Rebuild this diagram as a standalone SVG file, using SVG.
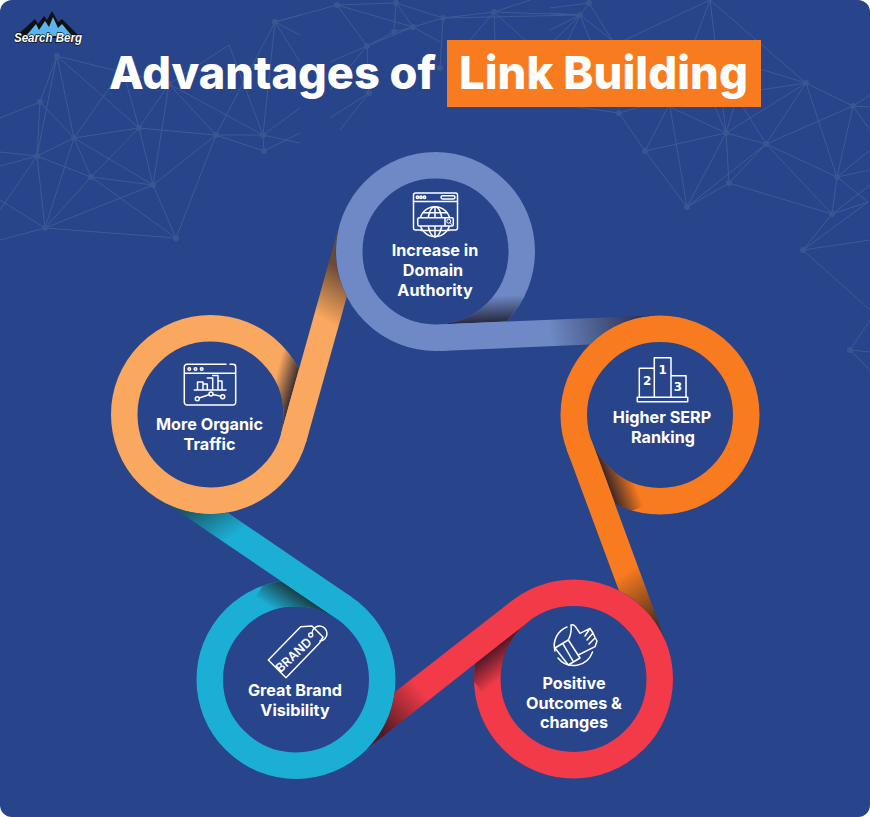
<svg xmlns="http://www.w3.org/2000/svg" width="870" height="817" viewBox="0 0 870 817">
<style>
.net{fill:none;stroke:#3e5b96;stroke-width:1}
.dot{fill:#385791}
.ring{fill:none;stroke-width:26.5}
.ic{fill:none;stroke:#fff;stroke-width:1.5;stroke-linejoin:round;stroke-linecap:round}
.lb{font-family:Inter,"Liberation Sans",sans-serif;font-weight:700;font-size:16.2px;fill:#fff;text-anchor:middle}
.tt{font-family:Inter,"Liberation Sans",sans-serif;font-weight:800;font-size:45.5px;fill:#fff}
.dg{font-family:"DejaVu Sans",sans-serif;font-weight:700;font-size:12px;fill:#fff;text-anchor:middle}
</style>
<defs>
<linearGradient id="gTop" gradientUnits="userSpaceOnUse" x1="550" y1="335" x2="640" y2="318"><stop offset="0" stop-color="#6e89c5"/><stop offset="1" stop-color="#2b3356"/></linearGradient>
<linearGradient id="gPeach" gradientUnits="userSpaceOnUse" x1="325" y1="320" x2="352" y2="275"><stop offset="0" stop-color="#faa75f"/><stop offset="1" stop-color="#6b4a32"/></linearGradient>
<linearGradient id="gOrange" gradientUnits="userSpaceOnUse" x1="622" y1="575" x2="655" y2="625"><stop offset="0" stop-color="#f97b20"/><stop offset="1" stop-color="#50301a"/></linearGradient>
<linearGradient id="gRed" gradientUnits="userSpaceOnUse" x1="425" y1="695" x2="382" y2="733"><stop offset="0" stop-color="#f23a48"/><stop offset="1" stop-color="#4e1a22"/></linearGradient>
<linearGradient id="gBlue" gradientUnits="userSpaceOnUse" x1="215" y1="548" x2="190" y2="510"><stop offset="0" stop-color="#1cafd6"/><stop offset="1" stop-color="#1a5a68"/></linearGradient>
<linearGradient id="sTop" gradientUnits="userSpaceOnUse" x1="480" y1="322.6" x2="478.9" y2="296.6"><stop offset="0" stop-color="#1a1a2a" stop-opacity=".85"/><stop offset="1" stop-color="#1a1a2a" stop-opacity="0"/></linearGradient>
<linearGradient id="sPeach" gradientUnits="userSpaceOnUse" x1="295.6" y1="381.3" x2="276" y2="375.8"><stop offset="0" stop-color="#1a1a2a" stop-opacity=".85"/><stop offset="1" stop-color="#1a1a2a" stop-opacity="0"/></linearGradient>
<linearGradient id="sOrange" gradientUnits="userSpaceOnUse" x1="605.4" y1="477.8" x2="629.8" y2="468.8"><stop offset="0" stop-color="#1a1a2a" stop-opacity=".85"/><stop offset="1" stop-color="#1a1a2a" stop-opacity="0"/></linearGradient>
<linearGradient id="sRed" gradientUnits="userSpaceOnUse" x1="497" y1="646" x2="514.2" y2="668.1"><stop offset="0" stop-color="#2a1020" stop-opacity=".8"/><stop offset="1" stop-color="#2a1020" stop-opacity="0"/></linearGradient>
<linearGradient id="sBlue" gradientUnits="userSpaceOnUse" x1="303.9" y1="596.6" x2="288.2" y2="619.8"><stop offset="0" stop-color="#1a2a2a" stop-opacity=".85"/><stop offset="1" stop-color="#1a2a2a" stop-opacity="0"/></linearGradient>
<clipPath id="cTop"><path clip-rule="evenodd" d="M336 251.5a99.5 99.5 0 1 0 199 0a99.5 99.5 0 1 0-199 0ZM362.5 251.5a73 73 0 1 0 146 0a73 73 0 1 0-146 0Z"/></clipPath>
<clipPath id="cPeach"><path clip-rule="evenodd" d="M111 414.5a99.5 99.5 0 1 0 199 0a99.5 99.5 0 1 0-199 0ZM137.5 414.5a73 73 0 1 0 146 0a73 73 0 1 0-146 0Z"/></clipPath>
<clipPath id="cOrange"><path clip-rule="evenodd" d="M560.500 415a99.5 99.5 0 1 0 199 0a99.5 99.5 0 1 0-199 0ZM587 415a73 73 0 1 0 146 0a73 73 0 1 0-146 0Z"/></clipPath>
<clipPath id="cRed"><path clip-rule="evenodd" d="M474 679a99.5 99.5 0 1 0 199 0a99.5 99.5 0 1 0-199 0ZM500.5 679a73 73 0 1 0 146 0a73 73 0 1 0-146 0Z"/></clipPath>
<clipPath id="cBlue"><path clip-rule="evenodd" d="M196.500 679.5a99.5 99.5 0 1 0 199 0a99.5 99.5 0 1 0-199 0ZM223 679.5a73 73 0 1 0 146 0a73 73 0 1 0-146 0Z"/></clipPath>
</defs>

<rect width="870" height="817" fill="#fff"/>
<rect width="870" height="817" rx="12" fill="#28448b"/>

<g id="network">
<path class="net" d="M57 56L40 102M57 56L37 156M57 56L74 138M57 56L169 84M57 56L139 128M40 102L74 138M40 102L37 156M40 102L0 118M74 138L37 156M74 138L91 177M74 138L45 228M74 138L139 128M74 138L153 185M74 138L118 75M37 156L0 152M37 156L0 166M37 156L91 177M37 156L45 228M37 156L0 210M91 177L139 128M91 177L153 185M91 177L45 228M91 177L176 238M139 128L153 185M139 128L169 84M139 128L216 135M139 128L125 78M153 185L45 228M153 185L176 238M153 185L216 135M153 185L169 84M45 228L176 238M45 228L0 240M45 228L0 200M176 238L216 135M169 84L216 135M169 84L263 135M169 84L229 45M229 45L263 135M275 22L263 135M275 22L216 135M216 135L263 135M216 135L264 151M263 135L264 151M263 135L300 143M264 151L300 133M275 22L300 15M275 22L300 35M263 135L300 108M275 22L337 5M275 22L300 62M337 5L396 3M337 5L413 27M337 5L367 46M396 3L394 32M396 3L413 27M396 3L443 18M394 32L413 27M394 32L367 46M413 27L367 46M413 27L440 42M443 18L413 27M443 18L494 12M443 18L440 68M443 18L580 15M494 12L580 15M494 12L530 0M494 12L495 40M494 12L525 40M494 12L470 40M367 46L330 90M367 46L330 62M367 46L369 93M369 93L330 118M369 93L340 130M580 15L555 40M580 15L568 40M580 15L590 40M580 15L612 40M589 3L612 40M589 3L580 15M589 3L550 8M580 15L550 13M580 15L550 30M710 0L806 83M710 0L726 133M710 0L695 40M710 0L625 40M806 83L853 106M806 83L726 133M806 83L766 144M806 83L837 177M806 83L760 69M806 83L760 90M853 106L766 144M853 106L837 177M853 106L870 95M853 106L870 107M853 106L870 130M726 133L766 144M726 133L729 183M726 133L687 207M726 133L645 151M726 133L670 107M726 133L715 107M726 133L734 107M766 144L729 183M766 144L687 207M766 144L837 177M766 144L832 214M766 144L743 107M729 183L687 207M729 183L832 214M645 151L687 207M645 151L619 113M645 151L668 107M687 207L670 107M837 177L832 214M837 177L870 150M837 177L870 170M837 177L868 202M832 214L868 202M832 214L870 185M832 214L803 250M803 250L868 202M803 250L870 240M803 250L870 310M850 350L870 320M850 350L870 352M850 350L870 370M619 113L640 107M619 113L550 103"/>
<g class="dot">
<circle cx="57" cy="56" r="3"/><circle cx="40" cy="102" r="3"/><circle cx="74" cy="138" r="3"/><circle cx="37" cy="156" r="3"/><circle cx="91" cy="177" r="3"/><circle cx="139" cy="128" r="3"/><circle cx="153" cy="185" r="3"/><circle cx="45" cy="228" r="3"/><circle cx="176" cy="238" r="3"/><circle cx="169" cy="84" r="3"/><circle cx="216" cy="135" r="3"/><circle cx="263" cy="135" r="3"/><circle cx="264" cy="151" r="3"/><circle cx="275" cy="22" r="3"/>
<circle cx="337" cy="5" r="3"/><circle cx="396" cy="3" r="3"/><circle cx="413" cy="27" r="3"/><circle cx="394" cy="32" r="3"/><circle cx="367" cy="46" r="3"/><circle cx="443" cy="18" r="3"/><circle cx="494" cy="12" r="3"/><circle cx="440" cy="68" r="3"/><circle cx="369" cy="93" r="3"/><circle cx="580" cy="15" r="3"/><circle cx="589" cy="3" r="3"/><circle cx="619" cy="113" r="3"/>
<circle cx="645" cy="151" r="3"/><circle cx="687" cy="207" r="3"/><circle cx="726" cy="133" r="3"/><circle cx="766" cy="144" r="3"/><circle cx="729" cy="183" r="3"/><circle cx="806" cy="83" r="3"/><circle cx="853" cy="106" r="3"/><circle cx="837" cy="177" r="3"/><circle cx="832" cy="214" r="3"/><circle cx="803" cy="250" r="3"/><circle cx="850" cy="350" r="3"/>
</g>
</g>

<g id="logo">
<path fill="#111" d="M14 38L35 19L38 24L44 16L47 20L52 11L58 22L62 19L79 36L60 38Z"/>
<path fill="#5ab4ee" d="M26 36L36 24L39 30L45 21L49 27L53 17L58 28L62 24L72 36Z"/>
<text x="14" y="42" textLength="68" lengthAdjust="spacingAndGlyphs" font-family="Liberation Sans,sans-serif" font-weight="700" font-style="italic" font-size="13.500px" fill="#fff" stroke="#111" stroke-width="1.400" paint-order="stroke">Search Berg</text>
</g>

<g id="title">
<text class="tt" x="109" y="89" textLength="327" lengthAdjust="spacingAndGlyphs">Advantages of</text>
<rect x="447" y="40" width="314" height="67" fill="#f97b20"/>
<text class="tt" x="459" y="89" textLength="289" lengthAdjust="spacingAndGlyphs">Link Building</text>
</g>

<g id="ring-top"><circle class="ring" cx="435.5" cy="251.500" r="86.25" stroke="#6e89c5"/><path clip-path="url(#cTop)" fill="url(#sTop)" d="M438.6 324.400L523.500 320.800L522.400 294.800L437.500 298.400Z"/></g>
<g id="ring-orange"><circle class="ring" cx="660" cy="415" r="86.25" stroke="#f97b20"/><path clip-path="url(#cOrange)" fill="url(#sOrange)" d="M591.500 440.300L619.300 515.300L643.700 506.300L615.900 431.300Z"/></g>
<g id="ring-red"><circle class="ring" cx="573.5" cy="679" r="86.25" stroke="#f23a48"/><path clip-path="url(#cRed)" fill="url(#sRed)" d="M528.600 621.400L465.500 670.600L482.700 692.700L545.800 643.500Z"/></g>
<g id="ring-blue"><circle class="ring" cx="296" cy="679.500" r="86.25" stroke="#1cafd6"/><path clip-path="url(#cBlue)" fill="url(#sBlue)" d="M337 619.100L270.800 574.100L255.100 597.300L321.300 642.300Z"/></g>
<g id="ring-peach"><circle class="ring" cx="210.500" cy="414.500" r="86.25" stroke="#faa75f"/><path clip-path="url(#cPeach)" fill="url(#sPeach)" d="M280.800 434.200L310.500 328.300L285.500 321.300L255.800 427.200Z"/></g>

<g id="connectors">
<path fill="url(#gTop)" d="M439.700 350.900L590 344.600A99.500 99.500 0 0 1 655 315.600L438.600 324.400Z"/>
<path fill="url(#gOrange)" d="M566.700 449.500L618.800 590.300A99.500 99.500 0 0 1 665.700 642L591.500 440.300Z"/>
<path fill="url(#gRed)" d="M512.300 600.500L394.800 692.100A99.500 99.500 0 0 1 367 749L528.600 621.400Z"/>
<path fill="url(#gBlue)" d="M351.900 597.200L227.500 512.600A99.500 99.500 0 0 1 169 505L337 619.100Z"/>
<path fill="url(#gPeach)" d="M306.300 441.400L346.800 296.700A99.500 99.500 0 0 1 339 226L280.800 434.200Z"/>
</g>

<g id="node-domain">
<rect class="ic" x="413.500" y="193" width="44" height="37" rx="2"/>
<path class="ic" d="M413.500 201.500H457.500"/>
<circle class="ic" cx="417.500" cy="197.300" r="1.200"/><circle class="ic" cx="421" cy="197.300" r="1.200"/><circle class="ic" cx="424.500" cy="197.300" r="1.200"/>
<rect class="ic" x="441" y="195.700" width="14" height="3.200" rx="1.600"/>
<circle class="ic" cx="435" cy="221.700" r="15" style="fill:#28448b"/>
<ellipse class="ic" cx="435" cy="221.700" rx="7" ry="15"/>
<path class="ic" d="M435 206.700V236.700M423 212.700H447M421 230.500H449"/>
<rect class="ic" x="417.700" y="217.700" width="35.600" height="8.300" rx="1.500" style="fill:#28448b"/>
<path class="ic" d="M445 217.700V226"/>
<circle class="ic" cx="448.700" cy="221.200" r="2" style="stroke-width:1"/>
<path class="ic" d="M450.200 222.800L451.800 224.600" style="stroke-width:1"/>
<text class="lb" x="435" y="256">Increase in</text><text class="lb" x="433" y="276">Domain</text><text class="lb" x="435" y="296">Authority</text>
</g>

<g id="node-serp">
<path class="ic" d="M654.300 397.300V368.300H639.300V397.300M654.300 397.300V357.700H671V397.300M671 375.700H686V397.300"/>
<rect class="ic" x="637.300" y="397.300" width="50.400" height="4.400"/>
<text class="dg" x="647.300" y="384.500">2</text><text class="dg" x="662.700" y="373.500">1</text><text class="dg" x="678" y="391">3</text>
<text class="lb" x="662" y="423">Higher SERP</text><text class="lb" x="663" y="443">Ranking</text>
</g>

<g id="node-positive">
<path class="ic" d="M567 627A20 20 0 0 0 555 651M558 658A20 20 0 0 0 592.500 652"/>
<path class="ic" d="M555 648L568.300 640L580 658L568.300 665ZM563.300 644.300L573.300 661.700"/>
<path class="ic" d="M568.300 640Q572 633 571 625Q574 624 576.700 628.300L580 633.300L590 628.300L593 633L595 637.500L597 641L595 646.700L578.300 655M590 628.300L585 636M593 633L587 640M595 638L589 644"/>
<text class="lb" x="574" y="689">Positive</text><text class="lb" x="574" y="709">Outcomes &amp;</text><text class="lb" x="574" y="728">changes</text>
</g>

<g id="node-brand">
<path class="ic" d="M268.300 660L300.700 626.700L312 626L323 637L319.300 643.300L286 677.700Z"/>
<circle class="ic" cx="310.700" cy="635" r="2"/>
<path class="ic" d="M312 633A7.500 7.500 0 1 1 320 641"/>
<text x="293.500" y="659.500" transform="rotate(-43 293.500 655)" font-family="Inter,Liberation Sans,sans-serif" font-weight="600" font-size="12.500px" fill="#fff" text-anchor="middle">BRAND</text>
<text class="lb" x="295" y="696">Great Brand</text><text class="lb" x="295" y="716">Visibility</text>
</g>

<g id="node-traffic">
<path class="ic" d="M226 364.300H187A2.700 2.700 0 0 0 184.300 367V402.300A2.700 2.700 0 0 0 187 405H233A2.700 2.700 0 0 0 235.700 402.300V367A2.700 2.700 0 0 0 233 364.300H230M184.300 373.300H235.700"/>
<circle class="ic" cx="189.300" cy="369" r="1.300"/><circle class="ic" cx="195.500" cy="369" r="1.300"/><circle class="ic" cx="201.700" cy="369" r="1.300"/>
<path class="ic" d="M194.300 390H226M197.500 390V382H203V390M203 384H207.300V390M207.300 378H212.700V390M212.700 375.500H218V390M218 381H222V390"/>
<circle class="ic" cx="197.300" cy="398.700" r="2"/><circle class="ic" cx="211" cy="394" r="2"/><circle class="ic" cx="222.700" cy="396.700" r="2"/>
<path class="ic" d="M199.200 398L209 394.700M213 394.500L220.700 396.200"/>
<text class="lb" x="209.500" y="430">More Organic</text><text class="lb" x="209.500" y="450">Traffic</text>
</g>
</svg>
